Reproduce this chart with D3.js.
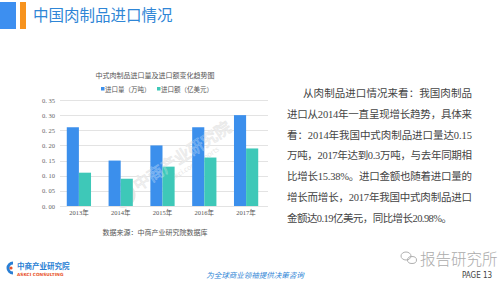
<!DOCTYPE html>
<html><head><meta charset="utf-8">
<script src="https://cdn.jsdelivr.net/npm/d3@7"></script>
<style>body{margin:0;background:#fff;}svg{display:block;}</style>
</head><body>
<script>
const categories = ["2013年","2014年","2015年","2016年","2017年"];
const volume = [0.26,0.15,0.20,0.26,0.30];   // 进口量（万吨）
const amount = [0.11,0.09,0.13,0.16,0.19];   // 进口额（亿美元）
const yTicks = [0,0.05,0.10,0.15,0.20,0.25,0.30,0.35];
const seriesNames = ["进口量（万吨）","进口额（亿美元）"];
const paragraph = [
  "从肉制品进口情况来看：我国肉制品",
  "进口从2014年一直呈现增长趋势，具体来",
  "看：2014年我国中式肉制品进口量达0.15",
  "万吨，2017年达到0.3万吨，与去年同期相",
  "比增长15.38%。进口金额也随着进口量的",
  "增长而增长，2017年我国中式肉制品进口",
  "金额达0.19亿美元，同比增长20.98%。"
];
const colors = ["#3b8fec","#3ec8b8"];
const cjk = "'Noto Sans CJK SC','Noto Sans',sans-serif";
const serif = "'Liberation Serif','Noto Sans CJK SC',serif";

const W=500,H=285;
const svg=d3.select("body").append("svg").attr("width",W).attr("height",H);

// header
svg.append("rect").attr("x",0).attr("y",2).attr("width",16).attr("height",27).attr("fill","#3d8ff0");
svg.append("rect").attr("x",20).attr("y",2).attr("width",6).attr("height",27).attr("fill","#f7931e");
svg.append("text").attr("x",33).attr("y",21).attr("font-family",cjk).attr("font-size",15.5)
  .attr("fill","#2f86d6").text("中国肉制品进口情况");

// chart
const x0=d3.scaleBand().domain(categories).range([58,267]).paddingInner(0.42).paddingOuter(0.21);
const x1=d3.scaleBand().domain([0,1]).range([0,x0.bandwidth()]);
const y=d3.scaleLinear().domain([0,0.35]).range([206,100]);

// watermark (behind bars)
const wm=svg.append("g").attr("transform","translate(165,168) rotate(-33)").attr("opacity",0.45);
wm.append("circle").attr("cx",-50).attr("cy",0).attr("r",11).attr("fill","none").attr("stroke","#c8c8c8").attr("stroke-width",3);
wm.append("text").attr("x",-35).attr("y",5).attr("font-family",cjk).attr("font-size",16).attr("fill","none")
  .attr("stroke","#bdbdbd").attr("stroke-width",0.8).text("中商产业研究院");
wm.append("text").attr("x",-22).attr("y",15).attr("font-family",cjk).attr("font-size",7).attr("fill","#ccc").text("www.askci.com/reports");

const g=svg.append("g");
g.append("g").selectAll("line").data(yTicks).join("line")
  .attr("x1",60).attr("x2",268).attr("y1",d=>Math.round(y(d))+0.5).attr("y2",d=>Math.round(y(d))+0.5)
  .attr("stroke","#e3e3e3").attr("stroke-width",1);
g.append("g").selectAll("text").data(yTicks).join("text")
  .attr("x",42).attr("y",d=>y(d)+2.5).attr("font-family",serif).attr("font-size",6.5).attr("fill","#666")
  .text(d=>d3.format(".2f")(d).replace("0.","0. "));

const grp=g.append("g").selectAll("g").data(categories).join("g")
  .attr("transform",d=>`translate(${x0(d)},0)`);
grp.selectAll("rect").data((d,i)=>[volume[i],amount[i]]).join("rect")
  .attr("x",(d,j)=>x1(j)).attr("width",x1.bandwidth())
  .attr("y",d=>y(d)).attr("height",d=>y(0)-y(d)).attr("fill",(d,j)=>colors[j]);

// watermark overlay on bars (light)
const wm2=svg.append("g").attr("transform","translate(165,168) rotate(-33)").attr("opacity",0.35);
wm2.append("text").attr("x",-35).attr("y",5).attr("font-family",cjk).attr("font-size",16).attr("fill","none")
  .attr("stroke","#ffffff").attr("stroke-width",0.7).text("中商产业研究院");

g.append("g").selectAll("text").data(categories).join("text")
  .attr("x",d=>x0(d)+x0.bandwidth()/2).attr("y",215).attr("text-anchor","middle")
  .attr("font-family",serif).attr("font-size",6.5).attr("fill","#555").text(d=>d);

svg.append("text").attr("x",155).attr("y",78).attr("text-anchor","middle").attr("font-family",cjk)
  .attr("font-size",7).attr("fill","#555").text("中式肉制品进口量及进口额变化趋势图");
const lg=[[101,seriesNames[0]],[157,seriesNames[1]]];
lg.forEach(([lx,t],i)=>{
  svg.append("rect").attr("x",lx).attr("y",87).attr("width",3.5).attr("height",3.5).attr("fill",colors[i]);
  svg.append("text").attr("x",lx+4).attr("y",91.5).attr("font-family",cjk).attr("font-size",6.5).attr("fill","#555").text(t);
});
svg.append("text").attr("x",155).attr("y",235).attr("text-anchor","middle").attr("font-family",cjk)
  .attr("font-size",7).attr("fill","#555").text("数据来源：中商产业研究院数据库");

// paragraph
svg.append("g").selectAll("text").data(paragraph).join("text")
  .attr("x",(d,i)=>i===0?303:287).attr("y",(d,i)=>97+i*20.8)
  .attr("font-family",serif).attr("font-size",10.5).attr("fill","#444")
  .attr("textLength",(d,i)=>i===6?165:(i===0?169:185)).attr("lengthAdjust","spacing")
  .text(d=>d);

// footer
const logo=svg.append("g");
logo.append("path").attr("d","M13,263 A5,5 0 1 0 13,273").attr("fill","none").attr("stroke","#2a7fd4").attr("stroke-width",3);
logo.append("circle").attr("cx",11).attr("cy",268).attr("r",1.6).attr("fill","#e8532b");
svg.append("text").attr("x",17).attr("y",269).attr("font-family",cjk).attr("font-size",7.5).attr("font-weight","bold").attr("fill","#2a7fd4").text("中商产业研究院");
svg.append("text").attr("x",17).attr("y",276).attr("font-family","'DejaVu Sans',sans-serif").attr("font-size",4.3).attr("font-weight","bold").attr("fill","#e8532b").text("ASKCI CONSULTING");
svg.append("text").attr("x",255).attr("y",278).attr("text-anchor","middle").attr("font-family",cjk)
  .attr("font-size",7.5).attr("font-style","italic").attr("fill","#2f86d6")
  .text("为全球商业领袖提供决策咨询");
const wc=svg.append("g").attr("fill","none").attr("stroke","#b0b0b0").attr("stroke-width",1);
wc.append("ellipse").attr("cx",406).attr("cy",256).attr("rx",5).attr("ry",4);
wc.append("ellipse").attr("cx",412).attr("cy",260).attr("rx",4.5).attr("ry",3.5);
svg.append("text").attr("x",420).attr("y",265).attr("font-family",cjk).attr("font-size",15.5).attr("font-weight",300).attr("fill","#ababab").text("报告研究所");
svg.append("text").attr("x",462).attr("y",278).attr("font-family","'DejaVu Sans Condensed','Liberation Sans Narrow',sans-serif").attr("font-size",8).attr("fill","#444").text("PAGE 13");
</script>
</body></html>
